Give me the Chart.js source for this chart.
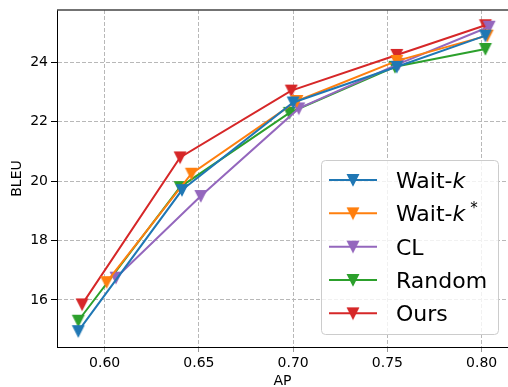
<!DOCTYPE html>
<html>
<head>
<meta charset="utf-8">
<script src="https://cdn.jsdelivr.net/npm/chart.js@4/dist/chart.umd.min.js"></script>
<style>
  html, body { margin: 0; padding: 0; background: #fff; }
  canvas { display: block; }
</style>
</head>
<body>
<canvas id="myChart" width="508" height="387"></canvas>
<script>
// series names, colours and (AP, BLEU) pairs per method
const seriesNames = ['Wait-k', 'Wait-k*', 'CL', 'Random', 'Ours'];
const seriesColors = ['#1f77b4', '#ff7f0e', '#9467bd', '#2ca02c', '#d62728'];

const waitkAP = [0.586, 0.641, 0.700, 0.755, 0.802];
const waitkBLEU = [14.95, 19.70, 22.65, 23.85, 24.90];

const waitkStarAP = [0.601, 0.646, 0.702, 0.755, 0.803];
const waitkStarBLEU = [16.60, 20.25, 22.70, 24.05, 24.90];

const clAP = [0.606, 0.651, 0.703, 0.756, 0.804];
const clBLEU = [16.75, 19.50, 22.45, 23.95, 25.20];

const randomAP = [0.586, 0.640, 0.698, 0.754, 0.802];
const randomBLEU = [15.30, 19.80, 22.30, 23.85, 24.45];

const oursAP = [0.588, 0.640, 0.699, 0.755, 0.802];
const oursBLEU = [15.85, 20.80, 23.05, 24.25, 25.25];

const xTicks = [0.60, 0.65, 0.70, 0.75, 0.80];
const yTicks = [16, 18, 20, 22, 24];

const allAP = [waitkAP, waitkStarAP, clAP, randomAP, oursAP];
const allBLEU = [waitkBLEU, waitkStarBLEU, clBLEU, randomBLEU, oursBLEU];

const FONT = '"DejaVu Sans", sans-serif';

// downward triangle marker, same look as a 'v' marker
function triangleDown(color) {
    const c = document.createElement('canvas');
    c.width = 16;
    c.height = 16;
    const g = c.getContext('2d');
    g.beginPath();
    g.moveTo(2.5, 2.5);
    g.lineTo(13.5, 2.5);
    g.lineTo(8, 13.5);
    g.closePath();
    g.fillStyle = color;
    g.fill();
    g.strokeStyle = color;
    g.lineWidth = 1.2;
    g.stroke();
    return c;
}

// "Wait-k" gets an italic k, "Wait-k*" also a raised star
function drawLabel(ctx, text, x, y) {
    const m = text.match(/^(.*-)k(\*?)$/);
    ctx.font = '22px ' + FONT;
    if (!m) {
        ctx.fillText(text, x, y);
        return;
    }
    ctx.fillText(m[1], x, y);
    x += ctx.measureText(m[1]).width;
    ctx.font = 'italic 22px ' + FONT;
    ctx.fillText('k', x, y);
    x += ctx.measureText('k').width;
    if (m[2]) {
        ctx.font = '15px ' + FONT;
        ctx.fillText('*', x + 5, y - 8.5);
    }
}

const topSpine = {
    id: 'topSpine',
    afterDatasetsDraw(chart) {
        const {ctx, chartArea} = chart;
        ctx.save();
        ctx.strokeStyle = '#444';
        ctx.lineWidth = 1.5;
        ctx.beginPath();
        ctx.moveTo(chartArea.left, chartArea.top);
        ctx.lineTo(chartArea.right, chartArea.top);
        ctx.stroke();
        ctx.restore();
    }
};

const boxLegend = {
    id: 'boxLegend',
    afterDraw(chart) {
        const ctx = chart.ctx;
        ctx.save();
        ctx.beginPath();
        ctx.roundRect(321.5, 160.5, 177, 174, 4);
        ctx.fillStyle = 'rgba(255,255,255,0.8)';
        ctx.fill();
        ctx.strokeStyle = '#cccccc';
        ctx.lineWidth = 1;
        ctx.stroke();

        chart.data.datasets.forEach((ds, i) => {
            const cy = 180 + i * 33.33;
            ctx.strokeStyle = ds.borderColor;
            ctx.lineWidth = 2;
            ctx.beginPath();
            ctx.moveTo(329, cy);
            ctx.lineTo(377, cy);
            ctx.stroke();
            ctx.drawImage(ds.pointStyle, 353 - 8, cy - 8);
            ctx.fillStyle = '#000';
            ctx.textBaseline = 'alphabetic';
            drawLabel(ctx, ds.label, 396, cy + 8);
        });
        ctx.restore();
    }
};

document.addEventListener('DOMContentLoaded', () => {
    const datasets = seriesNames.map((name, i) => ({
        label: name,
        data: allAP[i].map((ap, j) => ({x: ap, y: allBLEU[i][j]})),
        borderColor: seriesColors[i],
        backgroundColor: seriesColors[i],
        borderWidth: 2,
        tension: 0,
        pointStyle: triangleDown(seriesColors[i]),
        pointRadius: 6,
        clip: false
    }));

    const ctx = document.getElementById('myChart').getContext('2d');
    const myChart = new Chart(ctx, {
        type: 'line',
        data: {datasets: datasets},
        plugins: [topSpine, boxLegend],
        options: {
            responsive: false,
            animation: false,
            devicePixelRatio: 1,
            layout: {
                autoPadding: false,
                padding: {top: 10, right: 0, bottom: 0, left: 0}
            },
            plugins: {
                legend: {display: false},
                tooltip: {enabled: false}
            },
            scales: {
                x: {
                    type: 'linear',
                    min: 0.5747,
                    max: 0.814,
                    afterBuildTicks: s => { s.ticks = xTicks.map(v => ({value: v})); },
                    afterFit: s => {
                        s.height = 40;
                        s.paddingLeft = 0;
                        s.paddingRight = 0;
                    },
                    ticks: {
                        callback: v => v.toFixed(2),
                        color: '#000',
                        font: {family: FONT, size: 14},
                        padding: 2.5,
                        maxRotation: 0,
                        autoSkip: false
                    },
                    grid: {
                        color: '#b8b8b8',
                        lineWidth: 1,
                        tickLength: 5,
                        tickColor: '#999',
                        tickBorderDash: []
                    },
                    border: {display: true, color: '#000', width: 1, dash: [4, 2]},
                    title: {
                        display: true,
                        text: 'AP',
                        color: '#000',
                        font: {family: FONT, size: 14, lineHeight: 1},
                        padding: {top: 0, bottom: -1.5}
                    }
                },
                y: {
                    type: 'linear',
                    min: 14.416,
                    max: 25.763,
                    afterBuildTicks: s => { s.ticks = yTicks.map(v => ({value: v})); },
                    afterFit: s => {
                        s.width = 57;
                        s.paddingTop = 0;
                        s.paddingBottom = 0;
                    },
                    ticks: {
                        callback: v => String(v),
                        color: '#000',
                        font: {family: FONT, size: 14},
                        padding: 3
                    },
                    grid: {
                        color: '#b8b8b8',
                        lineWidth: 1,
                        tickLength: 6,
                        tickColor: '#000',
                        tickBorderDash: []
                    },
                    border: {display: true, color: '#000', width: 1, dash: [4, 2]},
                    title: {
                        display: true,
                        text: 'BLEU',
                        color: '#000',
                        font: {family: FONT, size: 14, lineHeight: 1},
                        padding: {top: 10.5, bottom: 0}
                    }
                }
            }
        }
    });
});
</script>
</body>
</html>
